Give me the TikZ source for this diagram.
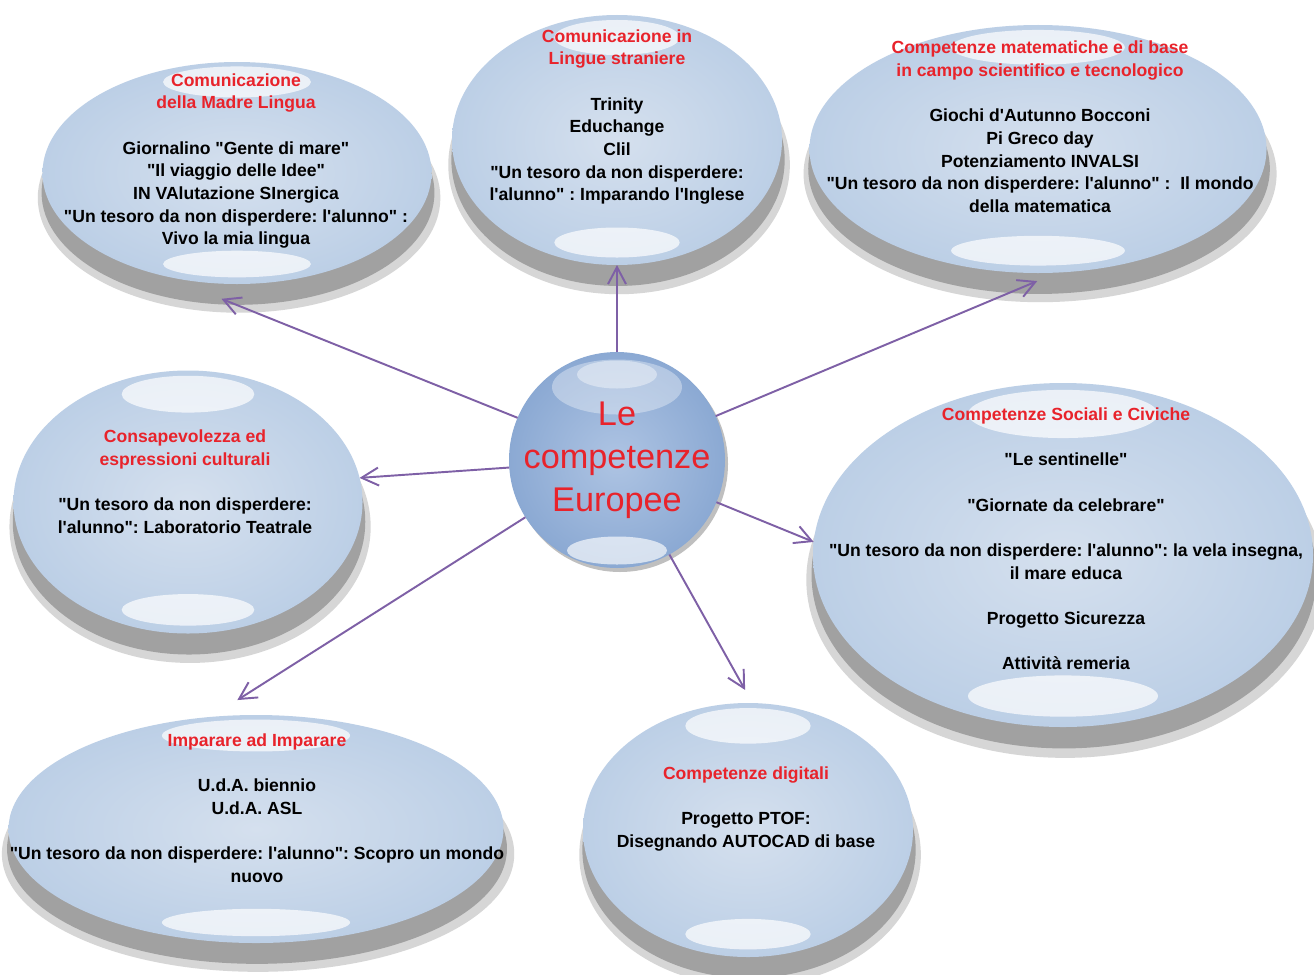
\documentclass[tikz,border=0pt]{standalone}
\usepackage{fontspec}
\setmainfont{Liberation Sans}[Ligatures=TeXOff]
\usetikzlibrary{shapes.geometric,shadows,calc,arrows.meta}
\definecolor{rosso}{HTML}{E8232B}
\definecolor{viola}{HTML}{7E60A6}
\definecolor{bubin}{HTML}{D5E0EE}
\definecolor{bubout}{HTML}{BCCFE6}
\definecolor{ballin}{HTML}{AEC4E3}
\definecolor{ballout}{HTML}{8BA9D3}
\newcommand{\tit}[1]{\textcolor{rosso}{#1}}
\tikzset{
  bubble/.style={ellipse, inner sep=0pt, outer sep=0pt, inner color=bubin, outer color=bubout,
    drop shadow={shadow xshift=0.4mm, shadow yshift=-4.8mm, shadow scale=1.035, fill=black!16, opacity=1},
    drop shadow={shadow xshift=0.2mm, shadow yshift=-3.9mm, shadow scale=1.01, fill=black!37, opacity=1},
    path picture={
      \fill[white, opacity=.7] let \p1=(path picture bounding box.south west), \p2=(path picture bounding box.north east) in
        ({0.5*\x1+0.5*\x2},{\y2-0.09*(\y2-\y1)}) ellipse ({0.19*(\x2-\x1)} and {0.07*(\y2-\y1)})
        ({0.5*\x1+0.5*\x2},{\y1+0.09*(\y2-\y1)}) ellipse ({0.19*(\x2-\x1)} and {0.06*(\y2-\y1)});
    }},
  ball/.style={circle, inner sep=0pt, outer sep=0pt, minimum size=4.32cm, inner color=ballin, outer color=ballout,
    drop shadow={shadow xshift=0.6mm, shadow yshift=-0.8mm, fill=black!25, opacity=1},
    path picture={
      \fill[white, opacity=.35] ($(path picture bounding box.north)+(0,-0.7cm)$) ellipse (1.3cm and 0.55cm);
      \fill[white, opacity=.4] ($(path picture bounding box.north)+(0,-0.45cm)$) ellipse (0.8cm and 0.28cm);
      \fill[white, opacity=.65] ($(path picture bounding box.south)+(0,0.35cm)$) ellipse (1.0cm and 0.28cm);
    }},
  txt/.style={align=center, font=\fontsize{10}{12.9}\selectfont\bfseries\frenchspacing},
  arr/.style={draw=viola, line width=1.1pt, -{Straight Barb[length=3.4mm,width=3.6mm]}}
}
\begin{document}
\begin{tikzpicture}[x=0.2mm,y=-0.2mm]
\fill[white] (0,0) rectangle (1314,974);
\useasboundingbox (0,0) rectangle (1314,974);
% le bolle
\node[bubble, minimum width=7.78cm, minimum height=4.44cm] (madre) at (237,173) {};
\node[bubble, minimum width=6.6cm, minimum height=5.0cm] (lingue) at (617,140) {};
\node[bubble, minimum width=9.14cm, minimum height=4.96cm] (mate) at (1038,149) {};
\node[bubble, minimum width=6.98cm, minimum height=5.26cm] (consap) at (188,502) {};
\node[bubble, minimum width=10cm, minimum height=6.88cm] (sociali) at (1063,555) {};
\node[bubble, minimum width=9.9cm, minimum height=4.56cm] (imparare) at (256,829) {};
\node[bubble, minimum width=6.6cm, minimum height=5.08cm] (digitali) at (748,830) {};
\node[ball] (centro) at (617,460) {};
% testi
\node[txt] (madre-t) at (236,161) {\tit{Comunicazione}\\ \tit{della Madre Lingua}\\[12.9pt]
  Giornalino "Gente di mare"\\ "Il viaggio delle Idee"\\ IN VAlutazione SInergica\\
  "Un tesoro da non disperdere: l'alunno" :\\ Vivo la mia lingua};
\node[txt] (lingue-t) at (617,117) {\tit{Comunicazione in}\\ \tit{Lingue straniere}\\[12.9pt]
  Trinity\\ Educhange\\ Clil\\ "Un tesoro da non disperdere:\\ l'alunno" : Imparando l'Inglese};
\node[txt] (mate-t) at (1040,127) {\tit{Competenze matematiche e di base}\\ \tit{in campo scientifico e tecnologico}\\[12.9pt]
  Giochi d'Autunno Bocconi\\ Pi Greco day\\ Potenziamento INVALSI\\
  "Un tesoro da non disperdere: l'alunno" : \ Il mondo\\ della matematica};
\node[txt] (consap-t) at (185,482) {\tit{Consapevolezza ed}\\ \tit{espressioni culturali}\\[12.9pt]
  "Un tesoro da non disperdere:\\ l'alunno": Laboratorio Teatrale};
\node[txt] (sociali-t) at (1066,539) {\tit{Competenze Sociali e Civiche}\\[12.9pt]
  "Le sentinelle"\\[12.9pt] "Giornate da celebrare"\\[12.9pt]
  "Un tesoro da non disperdere: l'alunno": la vela insegna,\\ il mare educa\\[12.9pt]
  Progetto Sicurezza\\[12.9pt] Attività remeria};
\node[txt] (imparare-t) at (257,808) {\tit{Imparare ad Imparare}\\[12.9pt]
  U.d.A. biennio\\ U.d.A. ASL\\[12.9pt] "Un tesoro da non disperdere: l'alunno": Scopro un mondo\\ nuovo};
\node[txt] (digitali-t) at (746,809) {\tit{Competenze digitali}\\[12.9pt] Progetto PTOF:\\ Disegnando AUTOCAD di base};
\node[align=center, text=rosso, font=\fontsize{19.5}{24.4}\selectfont] (centro-t) at (617,460) {Le\\ competenze\\ Europee};
% frecce
\draw[arr, shorten >=1.22cm] (centro.157) -- (madre.235);
\draw[arr] (centro.90) -- (lingue.270);
\draw[arr, shorten >=0.44cm] (centro.24) -- (mate.279);
\draw[arr] (centro.184) -- (consap.8);
\draw[arr, shorten >=0.63cm] (centro.212) -- (imparare.112);
\draw[arr] (centro.337) -- (sociali.177);
\draw[arr, shorten >=0.3cm] (centro.299) -- (digitali.88);
\end{tikzpicture}
\end{document}
